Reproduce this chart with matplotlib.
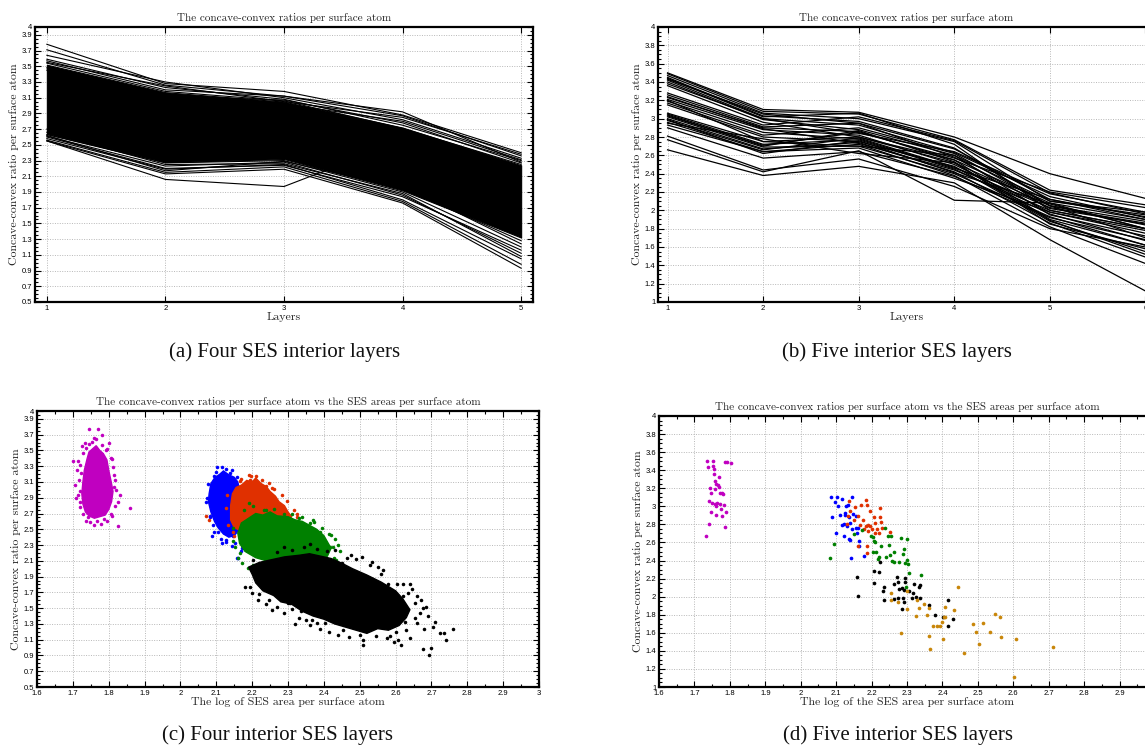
import numpy as np
import matplotlib
matplotlib.use("Agg")
import matplotlib.pyplot as plt
from matplotlib.ticker import MultipleLocator, FormatStrFormatter

# ---------------- panel (a): four interior layers, per-protein ratio lines
layers_a = [1, 2, 3, 4, 5]
# dense core of the bundle (upper / lower envelope)
core_a_upper = [3.52, 3.17, 3.05, 2.72, 2.24]
core_a_lower = [2.64, 2.28, 2.32, 1.92, 1.32]
# individual lines visible at the edges of the bundle
lines_a = [
    [3.78, 3.28, 3.18, 2.88, 2.40],
    [3.71, 3.26, 3.12, 2.87, 2.36],
    [3.64, 3.30, 3.10, 2.82, 2.33],
    [3.59, 3.23, 3.08, 2.75, 2.30],
    [3.57, 3.20, 3.12, 2.92, 2.28],
    [3.55, 3.25, 3.05, 2.85, 2.38],
    [3.54, 3.18, 3.06, 2.71, 2.25],
    [3.48, 3.15, 3.02, 2.80, 2.31],
    [3.45, 3.12, 3.07, 2.78, 2.27],
    [2.61, 2.23, 2.28, 1.86, 1.12],
    [2.58, 2.19, 2.25, 1.80, 1.05],
    [2.56, 2.15, 2.22, 1.78, 0.98],
    [2.55, 2.13, 2.19, 1.76, 0.93],
    [2.55, 2.06, 1.97, 2.55, 1.90],
    [2.63, 2.27, 2.30, 1.90, 1.20],
    [2.60, 2.20, 2.24, 1.84, 1.16],
    [2.62, 2.17, 2.29, 1.95, 1.28],
    [2.66, 2.25, 2.26, 1.88, 1.08],
    [2.70, 2.30, 2.35, 1.98, 1.24],
]

# ---------------- panel (b): five interior layers
layers_b = [1, 2, 3, 4, 5, 6]
lines_b = [
    [3.50, 3.10, 3.07, 2.80, 2.40, 2.13],
    [3.49, 3.08, 3.05, 2.77, 2.22, 2.06],
    [3.47, 3.06, 3.00, 2.75, 2.10, 1.95],
    [3.45, 3.03, 2.97, 2.68, 2.05, 1.88],
    [3.44, 3.02, 3.06, 2.72, 2.00, 1.80],
    [3.42, 3.00, 2.93, 2.63, 2.15, 1.92],
    [3.40, 2.99, 2.88, 2.60, 1.95, 1.72],
    [3.38, 3.00, 2.84, 2.64, 2.18, 1.98],
    [3.36, 2.96, 2.80, 2.55, 1.90, 1.62],
    [3.28, 2.93, 3.02, 2.76, 2.19, 1.96],
    [3.26, 2.91, 2.95, 2.58, 2.02, 1.85],
    [3.23, 2.90, 2.86, 2.55, 2.08, 1.90],
    [3.21, 2.88, 2.82, 2.50, 1.98, 1.75],
    [3.19, 2.85, 2.78, 2.46, 2.12, 1.93],
    [3.17, 2.82, 2.90, 2.62, 2.05, 1.84],
    [3.15, 2.80, 2.75, 2.48, 1.88, 1.55],
    [3.24, 2.89, 2.73, 2.44, 2.00, 1.80],
    [3.06, 2.75, 2.80, 2.52, 2.05, 1.70],
    [3.05, 2.72, 2.77, 2.45, 1.96, 1.67],
    [3.03, 2.71, 2.85, 2.57, 2.20, 2.03],
    [3.02, 2.69, 2.70, 2.40, 1.93, 1.62],
    [3.00, 2.67, 2.74, 2.42, 1.86, 1.49],
    [2.98, 2.66, 2.79, 2.47, 2.03, 1.86],
    [2.96, 2.64, 2.72, 2.38, 1.82, 1.42],
    [2.93, 2.64, 2.68, 2.35, 1.98, 1.78],
    [2.90, 2.57, 2.64, 2.37, 1.92, 1.68],
    [3.04, 2.70, 2.87, 2.53, 1.85, 1.58],
    [2.99, 2.62, 2.76, 2.41, 2.07, 1.80],
    [2.81, 2.44, 2.56, 2.26, 1.80, 1.60],
    [2.77, 2.42, 2.65, 2.11, 2.08, 1.80],
    [2.66, 2.38, 2.48, 2.30, 1.68, 1.12],
    [2.95, 2.78, 2.62, 2.52, 1.89, 1.52],
    [3.20, 2.75, 2.70, 2.60, 2.10, 1.98],
    [3.43, 3.05, 2.95, 2.67, 2.12, 1.90],
]

# ---------------- panel (c): four layers, log SES area vs ratio
# outline of the solid-looking centre of each cloud
core_c_x = {
    "magenta": [1.725, 1.728, 1.732, 1.740, 1.745, 1.755, 1.765, 1.775, 1.785, 1.795, 1.800, 1.807,
                1.812, 1.808, 1.800, 1.790, 1.775, 1.760, 1.745, 1.735, 1.728],
    "blue":    [2.080, 2.085, 2.095, 2.110, 2.120, 2.135, 2.150, 2.160, 2.165, 2.170, 2.175, 2.175,
                2.165, 2.150, 2.135, 2.120, 2.105, 2.095, 2.085, 2.078],
    "red":     [2.140, 2.145, 2.155, 2.170, 2.185, 2.200, 2.210, 2.225, 2.240, 2.250, 2.265, 2.275,
                2.290, 2.300, 2.310, 2.300, 2.270, 2.240, 2.200, 2.170, 2.150, 2.140],
    "green":   [2.160, 2.170, 2.190, 2.210, 2.230, 2.250, 2.270, 2.300, 2.320, 2.340, 2.360, 2.380,
                2.400, 2.410, 2.420, 2.410, 2.390, 2.360, 2.320, 2.280, 2.240, 2.210, 2.180, 2.165],
    "black":   [2.19, 2.22, 2.25, 2.29, 2.33, 2.36, 2.39, 2.42, 2.45, 2.48, 2.52, 2.56, 2.60, 2.62,
                2.64, 2.63, 2.61, 2.58, 2.55, 2.52, 2.49, 2.46, 2.43, 2.40, 2.37, 2.34, 2.31, 2.28,
                2.26, 2.23, 2.21, 2.20],
}
core_c_y = {
    "magenta": [2.95, 3.10, 3.25, 3.40, 3.48, 3.52, 3.56, 3.50, 3.46, 3.38, 3.25, 3.10,
                2.98, 2.85, 2.75, 2.68, 2.66, 2.64, 2.67, 2.72, 2.82],
    "blue":    [2.95, 3.08, 3.15, 3.20, 3.24, 3.19, 3.16, 3.10, 3.00, 2.88, 2.75, 2.62,
                2.50, 2.42, 2.40, 2.44, 2.52, 2.60, 2.72, 2.85],
    "red":     [2.80, 2.95, 3.03, 3.06, 3.12, 3.10, 3.15, 3.08, 3.04, 2.98, 2.92, 2.85,
                2.80, 2.72, 2.66, 2.58, 2.55, 2.52, 2.50, 2.48, 2.52, 2.62],
    "green":   [2.45, 2.58, 2.64, 2.70, 2.68, 2.72, 2.67, 2.66, 2.62, 2.60, 2.55, 2.50,
                2.42, 2.34, 2.26, 2.16, 2.10, 2.06, 2.05, 2.06, 2.10, 2.14, 2.22, 2.32],
    "black":   [2.02, 2.08, 2.11, 2.15, 2.17, 2.19, 2.16, 2.13, 2.07, 2.00, 1.92, 1.83, 1.72, 1.62,
                1.48, 1.38, 1.28, 1.22, 1.24, 1.18, 1.22, 1.26, 1.30, 1.36, 1.40, 1.46, 1.55, 1.58,
                1.66, 1.72, 1.82, 1.93],
}
# scattered points around the centres
pts_c_x = {
    "magenta": [1.745, 1.771, 1.780, 1.764, 1.700, 1.715, 1.711, 1.709, 1.719, 1.720, 1.816, 1.832, 1.858,
                1.827, 1.826, 1.759, 1.778, 1.737, 1.815, 1.810, 1.733, 1.796, 1.810, 1.795, 1.726, 1.802,
                1.727, 1.736, 1.752, 1.781, 1.793, 1.806, 1.812, 1.818, 1.821, 1.817, 1.805, 1.788,
                1.768, 1.749, 1.741, 1.728, 1.719, 1.714, 1.716, 1.722, 1.719, 1.706, 1.744, 1.758],
    "blue":    [2.103, 2.115, 2.145, 2.078, 2.071, 2.087, 2.101, 2.118, 2.117, 2.161, 2.171, 2.175, 2.147,
                2.136, 2.073, 2.088, 2.158, 2.24, 2.22, 2.094, 2.082, 2.127,
                2.093, 2.126, 2.139, 2.082, 2.091, 2.104, 2.112, 2.128, 2.143, 2.152, 2.168, 2.177,
                2.180, 2.158, 2.099],
    "red":     [2.212, 2.194, 2.19, 2.30, 2.315, 2.282, 2.255, 2.325, 2.071, 2.08, 2.15, 2.31, 2.24, 2.17,
                2.165, 2.198, 2.228, 2.246, 2.262, 2.283, 2.296, 2.318, 2.326, 2.131, 2.127, 2.133,
                2.148, 2.305],
    "green":   [2.19, 2.24, 2.29, 2.33, 2.36, 2.39, 2.417, 2.435, 2.42, 2.425, 2.37, 2.44, 2.268, 2.203,
                2.166, 2.147, 2.38, 2.40, 2.35, 2.32, 2.26, 2.21,
                2.178, 2.203, 2.232, 2.262, 2.311, 2.338, 2.372, 2.396, 2.413, 2.432, 2.446, 2.428,
                2.437, 2.405, 2.160, 2.172, 2.188, 2.226, 2.152, 2.148, 2.257, 2.295, 2.336, 2.373],
    "black":   [2.477, 2.505, 2.529, 2.465, 2.45, 2.58, 2.605, 2.622, 2.64, 2.636, 2.654, 2.677, 2.668,
                2.691, 2.659, 2.68, 2.705, 2.724, 2.759, 2.74, 2.677, 2.699, 2.694, 2.608, 2.615, 2.64,
                2.585, 2.529, 2.50, 2.454, 2.403, 2.38, 2.366, 2.335, 2.305, 2.194, 2.23, 2.211, 2.202,
                2.259, 2.248, 2.299, 2.271, 2.28, 2.239, 2.22, 2.43, 2.55, 2.62, 2.57,
                2.18, 2.20, 2.215, 2.24, 2.255, 2.27, 2.29, 2.31, 2.33, 2.35, 2.32, 2.36, 2.39,
                2.415, 2.44, 2.47, 2.51, 2.545, 2.575, 2.60, 2.625, 2.655, 2.67, 2.645, 2.66, 2.685,
                2.71, 2.735, 2.565, 2.535, 2.49, 2.56, 2.51, 2.595, 2.63,
                2.27, 2.31, 2.345, 2.38, 2.41, 2.29, 2.36],
}
pts_c_y = {
    "magenta": [3.77, 3.77, 3.70, 3.64, 3.37, 3.37, 3.25, 2.90, 2.99, 2.85, 3.03, 2.94, 2.77,
                2.85, 2.54, 2.55, 2.57, 2.61, 3.19, 3.39, 3.59, 3.52, 2.67, 2.60, 3.55, 3.60,
                3.47, 3.53, 3.61, 3.57, 3.50, 3.41, 3.29, 3.13, 3.00, 2.79, 2.69, 2.63,
                2.60, 2.59, 2.65, 2.70, 2.78, 2.93, 3.12, 3.21, 3.31, 3.06, 3.58, 3.66],
    "blue":    [3.29, 3.29, 3.25, 3.08, 2.85, 2.77, 2.62, 2.53, 2.32, 2.13, 2.26, 2.43, 2.41,
                2.58, 2.90, 2.41, 2.14, 2.15, 2.04, 2.47, 2.66, 2.36,
                3.18, 3.27, 3.22, 2.67, 2.55, 2.47, 2.38, 2.34, 2.29, 2.33, 2.22, 2.30,
                2.45, 3.16, 3.23],
    "red":     [3.175, 3.125, 3.19, 2.66, 2.58, 2.74, 3.02, 2.66, 2.67, 2.62, 2.42, 2.50, 3.05, 3.14,
                3.11, 3.17, 3.13, 3.09, 3.01, 2.93, 2.86, 2.74, 2.69, 2.93, 2.77, 2.56,
                2.47, 2.61],
    "green":   [2.83, 2.74, 2.70, 2.64, 2.58, 2.46, 2.28, 2.11, 2.43, 2.28, 2.62, 2.30, 2.05, 2.05,
                2.20, 2.35, 2.02, 2.00, 1.98, 2.00, 1.95, 2.00,
                2.74, 2.79, 2.75, 2.76, 2.70, 2.66, 2.59, 2.52, 2.44, 2.38, 2.22, 2.13,
                2.06, 2.03, 2.14, 2.07, 2.01, 2.03, 2.28, 2.52, 1.99, 2.00, 2.02, 2.01],
    "black":   [2.18, 2.15, 2.05, 2.14, 2.07, 1.81, 1.81, 1.80, 1.81, 1.69, 1.56, 1.50, 1.44,
                1.40, 1.31, 1.24, 1.26, 1.19, 1.24, 1.09, 0.98, 0.99, 0.91, 1.10, 1.03, 1.12,
                1.15, 1.27, 1.16, 1.22, 1.31, 1.31, 1.35, 1.47, 1.56, 1.765, 1.88, 1.98, 2.11,
                1.71, 1.60, 1.57, 1.75, 2.07, 1.77, 1.68, 2.24, 2.02, 1.65, 1.55,
                1.77, 1.69, 1.60, 1.55, 1.48, 1.52, 1.44, 1.49, 1.38, 1.35, 1.30, 1.28, 1.24,
                1.20, 1.16, 1.13, 1.10, 1.15, 1.12, 1.20, 1.33, 1.37, 1.60, 1.74, 1.66, 1.52,
                1.33, 1.18, 1.98, 2.09, 2.12, 1.93, 1.03, 1.07, 1.22,
                2.21, 2.24, 2.27, 2.25, 2.22, 2.28, 2.31],
}

# ---------------- panel (d): five layers
pts_d_x = {
    "magenta": [1.736, 1.752, 1.786, 1.792, 1.802, 1.739, 1.753, 1.754, 1.754, 1.769, 1.758, 1.762, 1.767,
                1.743, 1.759, 1.747, 1.769, 1.772, 1.778, 1.781, 1.742, 1.750, 1.758, 1.763, 1.772, 1.784,
                1.760, 1.776, 1.748, 1.788, 1.762, 1.778, 1.742, 1.785, 1.734],
    "blue":    [2.085, 2.103, 2.117, 2.096, 2.104, 2.127, 2.133, 2.144, 2.087, 2.111, 2.124, 2.126, 2.135,
                2.148, 2.157, 2.123, 2.131, 2.139, 2.155, 2.163, 2.100, 2.159, 2.136, 2.140, 2.165, 2.121,
                2.164, 2.178, 2.141, 2.117, 2.144],
    "red":     [2.137, 2.152, 2.171, 2.184, 2.187, 2.140, 2.195, 2.223, 2.133, 2.149, 2.163, 2.175, 2.206,
                2.223, 2.227, 2.211, 2.191, 2.185, 2.196, 2.202, 2.215, 2.189, 2.221, 2.210, 2.178, 2.167,
                2.162, 2.186, 2.187, 2.130, 2.229, 2.251],
    "green":   [2.093, 2.082, 2.149, 2.173, 2.198, 2.203, 2.210, 2.226, 2.239, 2.247, 2.203, 2.212, 2.218,
                2.222, 2.242, 2.253, 2.264, 2.259, 2.264, 2.278, 2.284, 2.292, 2.290, 2.295, 2.300, 2.300,
                2.303, 2.307, 2.340, 2.297, 2.255, 2.248, 2.206],
    "black":   [2.160, 2.162, 2.206, 2.221, 2.206, 2.235, 2.232, 2.236, 2.262, 2.275, 2.272, 2.295, 2.295,
                2.278, 2.286, 2.291, 2.275, 2.263, 2.288, 2.292, 2.287, 2.306, 2.316, 2.319, 2.333, 2.336,
                2.324, 2.314, 2.336, 2.361, 2.380, 2.401, 2.417, 2.429, 2.416, 2.225],
    "gold":    [2.255, 2.255, 2.276, 2.284, 2.300, 2.300, 2.324, 2.327, 2.335, 2.347, 2.357, 2.361, 2.361,
                2.364, 2.373, 2.385, 2.394, 2.399, 2.404, 2.408, 2.408, 2.402, 2.434, 2.443, 2.462, 2.487,
                2.496, 2.503, 2.515, 2.534, 2.548, 2.562, 2.566, 2.608, 2.602, 2.711],
}
pts_d_y = {
    "magenta": [3.504, 3.504, 3.49, 3.49, 3.48, 3.43, 3.445, 3.41, 3.36, 3.32, 3.28, 3.25, 3.24,
                3.20, 3.19, 3.15, 3.21, 3.15, 3.15, 3.14, 3.06, 3.04, 3.03, 3.04, 3.03, 3.02,
                3.00, 2.97, 2.94, 2.94, 2.90, 2.89, 2.80, 2.77, 2.67],
    "blue":    [3.10, 3.10, 3.08, 3.05, 3.00, 3.00, 3.01, 3.10, 2.88, 2.90, 2.93, 2.90, 2.88,
                2.92, 2.89, 2.80, 2.78, 2.81, 2.76, 2.76, 2.70, 2.71, 2.64, 2.63, 2.62, 2.67,
                2.56, 2.45, 2.43, 2.79, 2.75],
    "red":     [3.06, 2.99, 3.01, 3.07, 3.02, 2.95, 2.95, 2.98, 2.89, 2.85, 2.89, 2.85, 2.88,
                2.88, 2.83, 2.81, 2.79, 2.78, 2.78, 2.75, 2.75, 2.73, 2.71, 2.70, 2.75, 2.79,
                2.56, 2.56, 2.48, 2.80, 2.76, 2.72],
    "green":   [2.585, 2.43, 2.69, 2.74, 2.67, 2.66, 2.60, 2.56, 2.76, 2.67, 2.49, 2.49, 2.42,
                2.44, 2.44, 2.46, 2.50, 2.40, 2.38, 2.38, 2.65, 2.53, 2.47, 2.37, 2.64, 2.41,
                2.36, 2.26, 2.24, 2.11, 2.675, 2.57, 2.62],
    "black":   [2.22, 2.01, 2.28, 2.27, 2.155, 2.11, 2.06, 1.96, 2.14, 2.16, 2.22, 2.21, 2.16,
                2.09, 2.10, 2.07, 1.99, 1.97, 1.99, 1.94, 1.86, 2.06, 2.04, 2.14, 2.11, 2.13,
                2.00, 1.98, 1.98, 1.91, 1.80, 1.77, 1.96, 1.75, 1.68, 2.38],
    "gold":    [2.04, 1.96, 1.94, 1.60, 2.06, 1.86, 1.79, 1.96, 1.87, 1.92, 1.80, 1.88, 1.56,
                1.42, 1.67, 1.67, 1.67, 1.72, 1.77, 1.78, 1.89, 1.53, 1.85, 2.11, 1.38, 1.70,
                1.61, 1.48, 1.71, 1.61, 1.81, 1.78, 1.55, 1.53, 1.11, 1.44],
}

colors = {"magenta": "#c000c0", "blue": "#0000ff", "red": "#e03000",
          "green": "#008000", "black": "#000000", "gold": "#c8860a"}

TITLE_FONT = dict(family="cmr10", fontsize=8, color="#222222")
LABEL_FONT = dict(family="cmr10", fontsize=8.5, color="#222222")
CAPTION_FONT = dict(family="Liberation Serif", fontsize=15, color="#111111")

W, H = 1145, 747
fig = plt.figure(figsize=(W / 100, H / 100), dpi=100)


def box(l, t, r, b):
    return [l / W, 1 - b / H, (r - l) / W, (b - t) / H]


def style(ax, yticks, xmajor, xminor, yminor):
    ax.set_yticks(yticks)
    ax.xaxis.set_major_locator(MultipleLocator(xmajor))
    ax.xaxis.set_minor_locator(MultipleLocator(xminor))
    ax.yaxis.set_minor_locator(MultipleLocator(yminor))
    ax.xaxis.set_major_formatter(FormatStrFormatter("%g"))
    ax.yaxis.set_major_formatter(FormatStrFormatter("%g"))
    ax.tick_params(which="both", direction="in", top=True, right=True,
                   labelsize=5.5, pad=2, width=0.8)
    ax.tick_params(which="major", length=4)
    ax.tick_params(which="minor", length=2)
    for lab in ax.get_xticklabels() + ax.get_yticklabels():
        lab.set_family("Liberation Sans")
    for s in ax.spines.values():
        s.set_linewidth(1.6)
    ax.grid(True, which="major", color="#b8b8b8", linestyle=(0, (1, 1.5)), linewidth=0.7)
    ax.set_axisbelow(True)


yt_a = list(np.round(np.arange(0.5, 3.91, 0.2), 1)) + [4]
yt_b = list(np.round(np.arange(1.0, 4.01, 0.2), 1))

# (a)
ax = fig.add_axes(box(35, 27, 533, 302))
ax.fill_between(layers_a, core_a_lower, core_a_upper, color="black", lw=0.8)
for ln in lines_a:
    ax.plot(layers_a, ln, color="black", lw=0.8)
ax.set_xlim(0.9, 5.1)
ax.set_ylim(0.5, 4)
style(ax, yt_a, 1, 1, 0.05)
ax.set_title("The concave-convex ratios per surface atom", pad=4, **TITLE_FONT)
ax.set_xlabel("Layers", labelpad=0, **LABEL_FONT)
ax.set_ylabel("Concave-convex ratio per surface atom", labelpad=2, **LABEL_FONT)

# (b)
ax = fig.add_axes(box(658, 27, 1155, 302))
for ln in lines_b:
    ax.plot(layers_b, ln, color="black", lw=0.9)
ax.set_xlim(0.9, 6.1)
ax.set_ylim(1, 4)
style(ax, yt_b, 1, 1, 0.05)
ax.set_title("The concave-convex ratios per surface atom", pad=4, **TITLE_FONT)
ax.set_xlabel("Layers", labelpad=0, **LABEL_FONT)
ax.set_ylabel("Concave-convex ratio per surface atom", labelpad=2, **LABEL_FONT)

# (c)
ax = fig.add_axes(box(37, 411, 539, 687))
for key in ["magenta", "blue", "red", "green", "black"]:
    ax.fill(core_c_x[key], core_c_y[key], color=colors[key], lw=1.0, zorder=2)
    ax.scatter(pts_c_x[key], pts_c_y[key], s=6.5, color=colors[key], lw=0, zorder=2)
ax.set_xlim(1.6, 3.0)
ax.set_ylim(0.5, 4)
style(ax, yt_a, 0.1, 0.05, 0.05)
ax.set_title("The concave-convex ratios per surface atom vs the SES areas per surface atom",
             pad=4, **TITLE_FONT)
ax.set_xlabel("The log of SES area per surface atom", labelpad=0, **LABEL_FONT)
ax.set_ylabel("Concave-convex ratio per surface atom", labelpad=2, **LABEL_FONT)

# (d)
ax = fig.add_axes(box(659, 416, 1155, 687))
for key in ["magenta", "blue", "red", "green", "black", "gold"]:
    ax.scatter(pts_d_x[key], pts_d_y[key], s=7, color=colors[key], lw=0, zorder=2)
ax.set_xlim(1.6, 3.0)
ax.set_ylim(1, 4)
style(ax, yt_b, 0.1, 0.05, 0.05)
ax.set_title("The concave-convex ratios per surface atom vs the SES areas per surface atom",
             pad=4, **TITLE_FONT)
ax.set_xlabel("The log of the SES area per surface atom", labelpad=0, **LABEL_FONT)
ax.set_ylabel("Concave-convex ratio per surface atom", labelpad=2, **LABEL_FONT)

# sub-figure captions
fig.text(285 / W, 1 - 352 / H, "(a) Four SES interior layers", ha="center", va="center", **CAPTION_FONT)
fig.text(897 / W, 1 - 352 / H, "(b) Five interior SES layers", ha="center", va="center", **CAPTION_FONT)
fig.text(278 / W, 1 - 735 / H, "(c) Four interior SES layers", ha="center", va="center", **CAPTION_FONT)
fig.text(898 / W, 1 - 735 / H, "(d) Five interior SES layers", ha="center", va="center", **CAPTION_FONT)

fig.savefig("out.png", dpi=100)
